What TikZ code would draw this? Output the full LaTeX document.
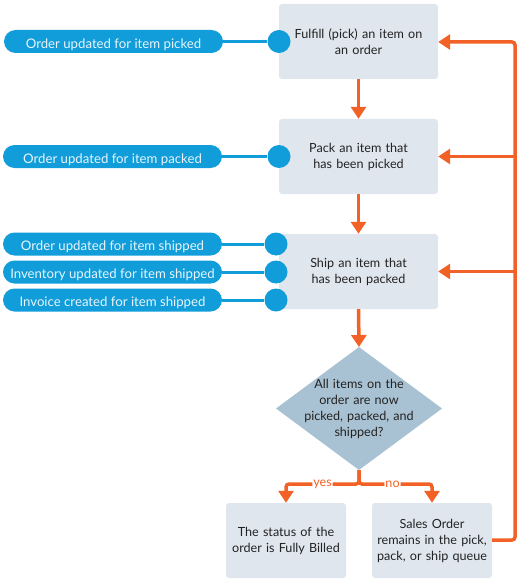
\documentclass[tikz,border=0pt]{standalone}
\usepackage{fontspec}
\setmainfont{Lato}
\usetikzlibrary{arrows.meta,positioning}
\definecolor{pillblue}{HTML}{109DD9}
\definecolor{boxgray}{HTML}{E0E6EE}
\definecolor{diamblue}{HTML}{A9C2D3}
\definecolor{flow}{HTML}{F26125}
\definecolor{txt}{HTML}{222222}
\definecolor{pilltxt}{HTML}{E8F5FC}
\begin{document}
\begin{tikzpicture}[x=1pt,y=-1pt,
  stepbox/.style={fill=boxgray,rounded corners=3pt,minimum width=159pt,minimum height=75pt,
    text width=150pt,align=center,text=txt,font=\fontsize{12.6}{16}\selectfont,inner sep=0pt},
  endbox/.style={fill=boxgray,rounded corners=3pt,minimum width=120pt,minimum height=75pt,
    text width=118pt,align=center,text=txt,font=\fontsize{12.6}{16}\selectfont,inner sep=0pt},
  pill/.style={fill=pillblue,rounded corners=11.5pt,minimum width=219pt,minimum height=23pt,
    text=pilltxt,font=\fontsize{13.2}{14}\selectfont,inner sep=0pt,text height=13.6pt,text depth=0pt},
  dot/.style={circle,fill=pillblue,minimum size=23pt,inner sep=0pt},
  link/.style={draw=pillblue,line width=3pt},
  flowline/.style={draw=flow,line width=3.5pt,-{Triangle[length=12pt,width=15pt]}},
  lbl/.style={fill=white,text=flow,inner sep=1pt,font=\fontsize{12.6}{14}\selectfont}]
\useasboundingbox (0,0) rectangle (523,583);

% step boxes
\node[stepbox] (fulfill) at (358.5,41.5) {Fulfill (pick) an item on\\an order};
\node[stepbox] (pack) at (358.5,156.5) {Pack an item that\\has been picked};
\node[stepbox] (ship) at (358.5,271.5) {Ship an item that\\has been packed};

% diamond
\coordinate (dtop) at (359,347);
\coordinate (dright) at (442,408.5);
\coordinate (dbot) at (359,470);
\coordinate (dleft) at (276,408.5);
\fill[diamblue] (dtop) -- (dright) -- (dbot) -- (dleft) -- cycle;
\node[text width=130pt,align=center,text=txt,font=\fontsize{12.6}{16}\selectfont,inner sep=0pt]
  (decision) at (359,408.5) {All items on the\\order are now\\picked, packed, and\\shipped?};

% end boxes
\node[endbox] (billed) at (286,540.5) {The status of the\\order is Fully Billed};
\node[endbox] (queue) at (432,540.5) {Sales Order\\remains in the pick,\\pack, or ship queue};

% pills and dots
\node[pill] (p1) at (113.5,41.5) {Order updated for item picked};
\node[pill] (p2) at (112.5,156.5) {Order updated for item packed};
\node[pill] (p3) at (112.5,244) {Order updated for item shipped};
\node[pill] (p4) at (112.5,272) {Inventory updated for item shipped};
\node[pill] (p5) at (112.5,300) {Invoice created for item shipped};
\node[dot] (d1) at (279,41.5) {};
\node[dot] (d2) at (279,156.5) {};
\node[dot] (d3) at (276,244) {};
\node[dot] (d4) at (276,272) {};
\node[dot] (d5) at (276,300) {};
\draw[link] (p1.east) -- (d1);
\draw[link] (p2.east) -- (d2);
\draw[link] (p3.east) -- (d3);
\draw[link] (p4.east) -- (d4);
\draw[link] (p5.east) -- (d5);

% main flow
\draw[flowline] (fulfill.south) -- (pack.north);
\draw[flowline] (pack.south) -- (ship.north);
\draw[flowline] (ship.south) -- (dtop);
\coordinate (split) at (359,484);
\draw[flowline,rounded corners=3pt] (dbot) -- (split) -| node[lbl,pos=0.25] {yes} (billed.north);
\draw[flowline,rounded corners=3pt] (dbot) -- (split) -| node[lbl,pos=0.23] {no} (queue.north);

% return loop
\coordinate (rbot) at (515,540);
\coordinate (rtop) at (515,42);
\draw[flowline,rounded corners=3pt] (queue.east |- rbot) -- (rbot) -- (rtop) -- (fulfill.east |- rtop);
\draw[flowline] (rtop |- pack.east) -- (pack.east);
\draw[flowline] (rtop |- ship.east) -- (ship.east);
\end{tikzpicture}
\end{document}
